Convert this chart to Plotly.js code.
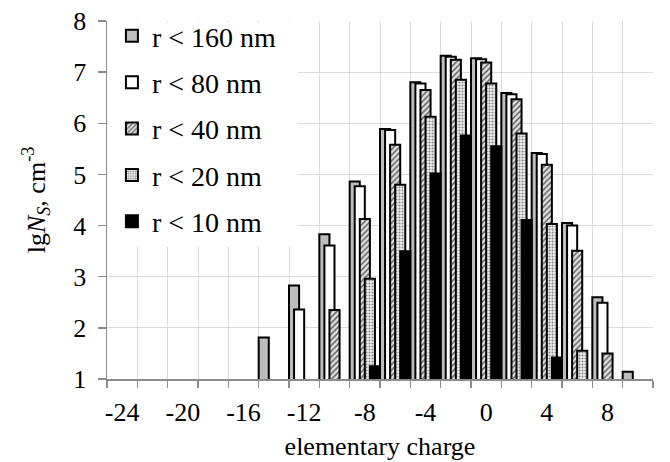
<!DOCTYPE html>
<html>
<head>
<meta charset="utf-8">
<script src="https://cdn.plot.ly/plotly-3.0.1.min.js"></script>
<style>html,body{margin:0;padding:0;background:#fff;}#chart{width:670px;height:462px;}</style>
</head>
<body>
<div id="chart"></div>
<script>
// categories: elementary charge
const categories = [-24,-22,-20,-18,-16,-14,-12,-10,-8,-6,-4,-2,0,2,4,6,8,10];
const tickLabelValues = [-24,-20,-16,-12,-8,-4,0,4,8];
const seriesNames = ["r < 160 nm","r < 80 nm","r < 40 nm","r < 20 nm","r < 10 nm"];
// lg N_S values (null = below axis minimum)
const r160 = [null,null,null,null,null,1.81,2.83,3.83,4.86,5.89,6.80,7.32,7.27,6.59,5.42,4.05,2.60,1.14];
const r80  = [null,null,null,null,null,null,2.36,3.61,4.77,5.87,6.78,7.30,7.25,6.57,5.40,4.00,2.49,null];
const r40  = [null,null,null,null,null,null,null,2.35,4.13,5.58,6.65,7.24,7.19,6.47,5.19,3.51,1.50,null];
const r20  = [null,null,null,null,null,null,null,null,2.96,4.80,6.13,6.85,6.78,5.80,4.03,1.55,null,null];
const r10  = [null,null,null,null,null,null,null,null,1.25,3.50,5.02,5.76,5.55,4.11,1.42,null,null,null];

const seriesValues = [r160, r80, r40, r20, r10];
const step = 2;            // category spacing in charge units
const barW = step / 3;     // 50% overlap, zero gap
const shift = barW / 2;

const markers = [
  {color:'#bdbdbd', line:{color:'#000', width:2}},
  {color:'#ffffff', line:{color:'#000', width:2}},
  {color:'#ffffff', line:{color:'#000', width:2}, pattern:{shape:'/', fgcolor:'#555', bgcolor:'#e0e0e0', size:4, solidity:0.35}},
  {color:'#ffffff', line:{color:'#000', width:2}, pattern:{shape:'.', fgcolor:'#888', bgcolor:'#f2f2f2', size:3, solidity:0.4}},
  {color:'#000000', line:{color:'#000', width:2}}
];

const traces = seriesValues.map((vals, i) => ({
  type:'bar',
  name: seriesNames[i],
  x: categories,
  y: vals,
  width: barW,
  offset: -step/2 + i*shift,
  marker: markers[i],
  legendgroup: 'g'+i
}));

const boundaries = categories.map(c => c - step/2).concat([categories[categories.length-1] + step/2]);
const serif = '"Liberation Serif", "Times New Roman", serif';

const layout = {
  width:670, height:462,
  margin:{l:107, r:17, t:20, b:83},
  paper_bgcolor:'#fff', plot_bgcolor:'#fff',
  barmode:'overlay',
  showlegend:true,
  font:{family:serif, color:'#000', size:25},
  legend:{x:0.009, y:1.025, xanchor:'left', yanchor:'top', bgcolor:'rgba(255,255,255,0)',
          font:{family:serif, size:28, color:'#000'}, tracegroupgap:7,
          traceorder:'grouped'},
  // white panel behind the legend hiding the gridlines (top gridline stays visible)
  shapes:[{type:'rect', xref:'paper', yref:'paper', x0:0.003, x1:0.35, y0:0.37, y1:0.996,
           fillcolor:'#ffffff', line:{width:0}, layer:'above'}],
  xaxis:{
    range:[boundaries[0], boundaries[boundaries.length-1]],
    tickmode:'array', tickvals:tickLabelValues, ticktext:tickLabelValues.map(String),
    ticks:'', showgrid:false, zeroline:false,
    showline:true, linecolor:'#8c8c8c', linewidth:1.5,
    tickfont:{family:serif, size:26, color:'#000'},
    ticklabelstandoff:9,
    minor:{tickmode:'array', tickvals:boundaries, ticks:'outside', ticklen:7, tickcolor:'#8c8c8c', tickwidth:1.5,
           showgrid:true, gridcolor:'#dcdcdc', gridwidth:1},
    title:{text:'elementary charge', font:{family:serif, size:26, color:'#000'}, standoff:11}
  },
  yaxis:{
    range:[1,8], tickmode:'linear', tick0:1, dtick:1,
    ticks:'outside', ticklen:8, tickcolor:'#8c8c8c', tickwidth:1.5,
    showline:true, linecolor:'#8c8c8c', linewidth:1.5,
    showgrid:true, gridcolor:'#dcdcdc', gridwidth:1, zeroline:false,
    tickfont:{family:serif, size:26, color:'#000'},
    ticklabelstandoff:6,
    title:{text:'lg<i>N<sub>S</sub></i>, cm<sup>-3</sup>', font:{family:serif, size:26, color:'#000'}, standoff:20}
  }
};

Plotly.newPlot('chart', traces, layout, {displayModeBar:false, staticPlot:true});
</script>
</body>
</html>
